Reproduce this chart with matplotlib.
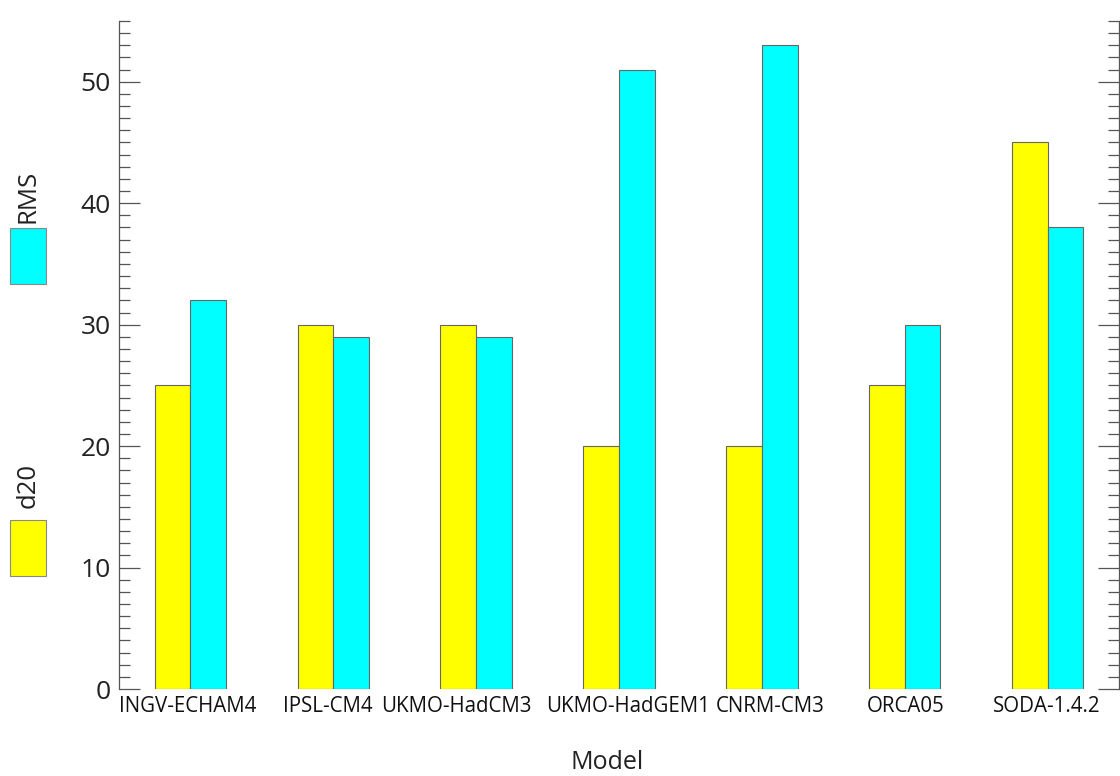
import numpy as np
import matplotlib
matplotlib.use("Agg")
import matplotlib.pyplot as plt
from matplotlib.patches import Rectangle
from matplotlib.ticker import MultipleLocator
from matplotlib.transforms import ScaledTranslation

plt.rcParams['font.family'] = ['Open Sans', 'DejaVu Sans']

# data
models = ['INGV-ECHAM4', 'IPSL-CM4', 'UKMO-HadCM3', 'UKMO-HadGEM1',
          'CNRM-CM3', 'ORCA05', 'SODA-1.4.2']
d20 = [25, 30, 30, 20, 20, 25, 45]
rms = [32, 29, 29, 51, 53, 30, 38]

# small nudges (pixels) of the model names, as in the original layout
label_shift = [-3, -6, -20, 9, 8, 1, -1]

yellow = '#ffff00'
cyan = '#00ffff'
edge = '#666666'

fig = plt.figure(figsize=(11.2, 7.76), dpi=100)
ax = fig.add_axes([0.1063, 0.112, 0.8928, 0.861])

x = np.arange(len(models))
w = 0.25
ax.bar(x - w / 2, d20, w, color=yellow, edgecolor=edge, linewidth=0.8)
ax.bar(x + w / 2, rms, w, color=cyan, edgecolor=edge, linewidth=0.8)

ax.set_xlim(-0.5, len(models) - 0.5)
ax.set_ylim(0, 55)
ax.yaxis.set_major_locator(MultipleLocator(10))
ax.yaxis.set_minor_locator(MultipleLocator(1))

for s in ['top', 'bottom']:
    ax.spines[s].set_visible(False)
for s in ['left', 'right']:
    ax.spines[s].set_color('#555555')
    ax.spines[s].set_linewidth(0.9)

ax.tick_params(axis='y', which='both', direction='in', left=True, right=True,
               color='#555555', width=0.9)
ax.tick_params(axis='y', which='major', length=15, labelsize=19, pad=6,
               labelcolor='#222222')
ax.tick_params(axis='y', which='minor', length=8)

ax.set_xticks(x)
ax.set_xticklabels(models, fontsize=14.8, color='#111111')
ax.tick_params(axis='x', length=0, pad=5)
for lab, dx in zip(ax.get_xticklabels(), label_shift):
    lab.set_transform(lab.get_transform() +
                      ScaledTranslation(dx / 100, 0, fig.dpi_scale_trans))

ax.set_xlabel('Model', fontsize=18, color='#222222', va='baseline')
ax.xaxis.set_label_coords(0.488, -0.119)

# legend boxes on the left
fig.add_artist(Rectangle((10 / 1120, 1 - 576 / 776), 36 / 1120, 56 / 776,
                         transform=fig.transFigure, facecolor=yellow,
                         edgecolor='#888888', linewidth=0.8))
fig.add_artist(Rectangle((10 / 1120, 1 - 284 / 776), 36 / 1120, 56 / 776,
                         transform=fig.transFigure, facecolor=cyan,
                         edgecolor='#888888', linewidth=0.8))
fig.text(28 / 1120, 1 - 485 / 776, 'd20', rotation=90, fontsize=18.5,
         ha='center', va='center', color='#222222')
fig.text(28 / 1120, 1 - 196 / 776, 'RMS', rotation=90, fontsize=18.5,
         ha='center', va='center', color='#222222')

fig.savefig('out.png', dpi=100)
